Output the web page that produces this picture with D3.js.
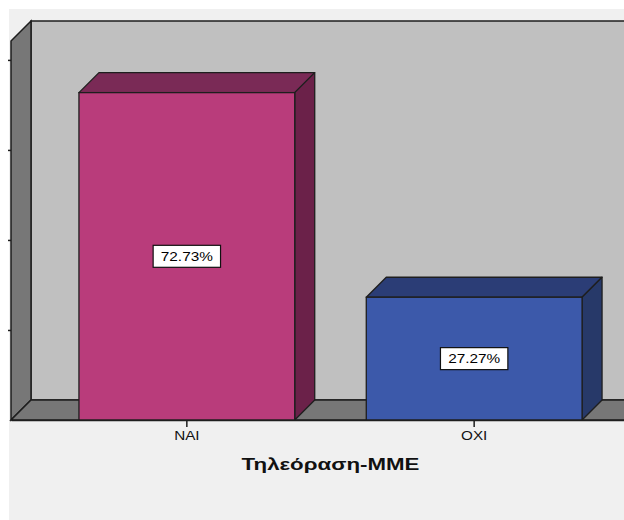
<!DOCTYPE html>
<html>
<head>
<meta charset="utf-8">
<script src="https://cdn.jsdelivr.net/npm/d3@7"></script>
<style>
  html, body { margin: 0; padding: 0; background: #ffffff; }
  svg { display: block; }
  text { font-family: "Liberation Sans", Arial, sans-serif; }
</style>
</head>
<body>
<svg id="chart" width="624" height="520"></svg>
<script>
// Responses for "Τηλεόραση-ΜΜΕ", as percent of respondents
const categories = ["ΝΑΙ", "ΟΧΙ"];
const percents = [72.73, 27.27];
const valueLabels = ["72.73%", "27.27%"];
const yTicks = [20, 40, 60, 80];
const yMax = 84.2;
const axisTitle = "Τηλεόραση-ΜΜΕ";

const barColors = [
  { front: "#b93c7b", top: "#7a2a56", side: "#6b2149" },
  { front: "#3c59aa", top: "#2b3d76", side: "#273969" }
];

const W = 624, H = 520;
const depth = 20;                  // 3D offset of the back plane
const plot = { left: 11, right: 650, bottom: 420 };
const edge = "#1e1e1e";
const wide = 1.22;                 // horizontal stretch of the label type

const svg = d3.select("#chart");

// Panel background
svg.append("rect").attr("x", 0).attr("y", 0).attr("width", W).attr("height", H).attr("fill", "#ffffff");
svg.append("rect").attr("x", 9).attr("y", 9).attr("width", W - 9).attr("height", H - 9).attr("fill", "#f0f0f0");

const x = d3.scaleBand()
  .domain(categories)
  .range([plot.left, plot.right])
  .paddingInner(0.249)
  .paddingOuter(0.2365);

const y = d3.scaleLinear()
  .domain([0, yMax])
  .range([plot.bottom, 41]);

const yTop = y(yMax);
const poly = pts => pts.map(p => p.join(",")).join(" ");

// Stretch a text element horizontally by a factor
function widen(sel, factor) {
  sel.each(function() {
    const len = this.getComputedTextLength();
    d3.select(this).attr("textLength", len * factor).attr("lengthAdjust", "spacingAndGlyphs");
  });
}

// Back wall
svg.append("polygon")
  .attr("points", poly([
    [plot.left + depth, yTop - depth], [plot.right + depth, yTop - depth],
    [plot.right + depth, plot.bottom - depth], [plot.left + depth, plot.bottom - depth]
  ]))
  .attr("fill", "#c0c0c0").attr("stroke", edge).attr("stroke-width", 1.5);

// Left side wall
svg.append("polygon")
  .attr("points", poly([
    [plot.left, yTop], [plot.left + depth, yTop - depth],
    [plot.left + depth, plot.bottom - depth], [plot.left, plot.bottom]
  ]))
  .attr("fill", "#777777").attr("stroke", edge).attr("stroke-width", 1.5);

// Floor
svg.append("polygon")
  .attr("points", poly([
    [plot.left, plot.bottom], [plot.left + depth, plot.bottom - depth],
    [plot.right + depth, plot.bottom - depth], [plot.right, plot.bottom]
  ]))
  .attr("fill", "#777777").attr("stroke", edge).attr("stroke-width", 1.5);

// Y-axis ticks on the front edge of the side wall (labels fall outside the view)
const yAxis = d3.axisLeft(y).tickValues(yTicks).tickSize(3).tickFormat("");
const gy = svg.append("g").attr("transform", `translate(${plot.left},0)`).call(yAxis);
gy.select(".domain").remove();
gy.selectAll(".tick line").attr("stroke", edge).attr("stroke-width", 1.5);

// 3D bars
const bars = svg.append("g").selectAll("g.bar")
  .data(categories.map((c, i) => ({ cat: c, v: percents[i], label: valueLabels[i], col: barColors[i] })))
  .join("g").attr("class", "bar");

bars.each(function(d) {
  const g = d3.select(this);
  const x0 = x(d.cat), x1 = x0 + x.bandwidth();
  const yt = y(d.v), yb = y(0);
  // top face
  g.append("polygon")
    .attr("points", poly([[x0, yt], [x0 + depth, yt - depth], [x1 + depth, yt - depth], [x1, yt]]))
    .attr("fill", d.col.top).attr("stroke", edge).attr("stroke-width", 1.3).attr("stroke-linejoin", "round");
  // right side face
  g.append("polygon")
    .attr("points", poly([[x1, yt], [x1 + depth, yt - depth], [x1 + depth, yb - depth], [x1, yb]]))
    .attr("fill", d.col.side).attr("stroke", edge).attr("stroke-width", 1.3).attr("stroke-linejoin", "round");
  // front face
  g.append("rect")
    .attr("x", x0).attr("y", yt).attr("width", x1 - x0).attr("height", yb - yt)
    .attr("fill", d.col.front).attr("stroke", edge).attr("stroke-width", 1.3);

  // value label box at the middle of the front face
  const cx = x0 + x.bandwidth() / 2, cy = (yt + yb) / 2;
  const t = g.append("text")
    .attr("x", cx).attr("y", cy)
    .attr("text-anchor", "middle").attr("dominant-baseline", "central")
    .attr("font-size", 13).attr("fill", "#000").text(d.label);
  widen(t, 1.18);
  const w = t.node().getComputedTextLength() * 1.18;
  g.insert("rect", "text")
    .attr("x", cx - w / 2 - 3).attr("y", cy - 11)
    .attr("width", w + 6).attr("height", 22)
    .attr("fill", "#ffffff").attr("stroke", "#111").attr("stroke-width", 1.2);
});

// X axis: front edge of the floor with category ticks
const xAxis = d3.axisBottom(x).tickSize(7).tickSizeOuter(0).tickPadding(4);
const gx = svg.append("g").attr("transform", `translate(0,${plot.bottom})`).call(xAxis);
gx.select(".domain").attr("stroke", edge).attr("stroke-width", 1.5);
gx.selectAll(".tick line").attr("stroke", edge).attr("stroke-width", 1.5);
gx.selectAll(".tick text")
  .attr("font-family", "'Liberation Sans', Arial, sans-serif")
  .attr("font-size", 12.5).attr("fill", "#111")
  .call(widen, wide);

// Axis title
svg.append("text")
  .attr("x", (plot.left + plot.right) / 2).attr("y", 470)
  .attr("text-anchor", "middle")
  .attr("font-size", 16.5).attr("font-weight", "bold").attr("fill", "#111")
  .text(axisTitle)
  .call(widen, 1.35);
</script>
</body>
</html>
